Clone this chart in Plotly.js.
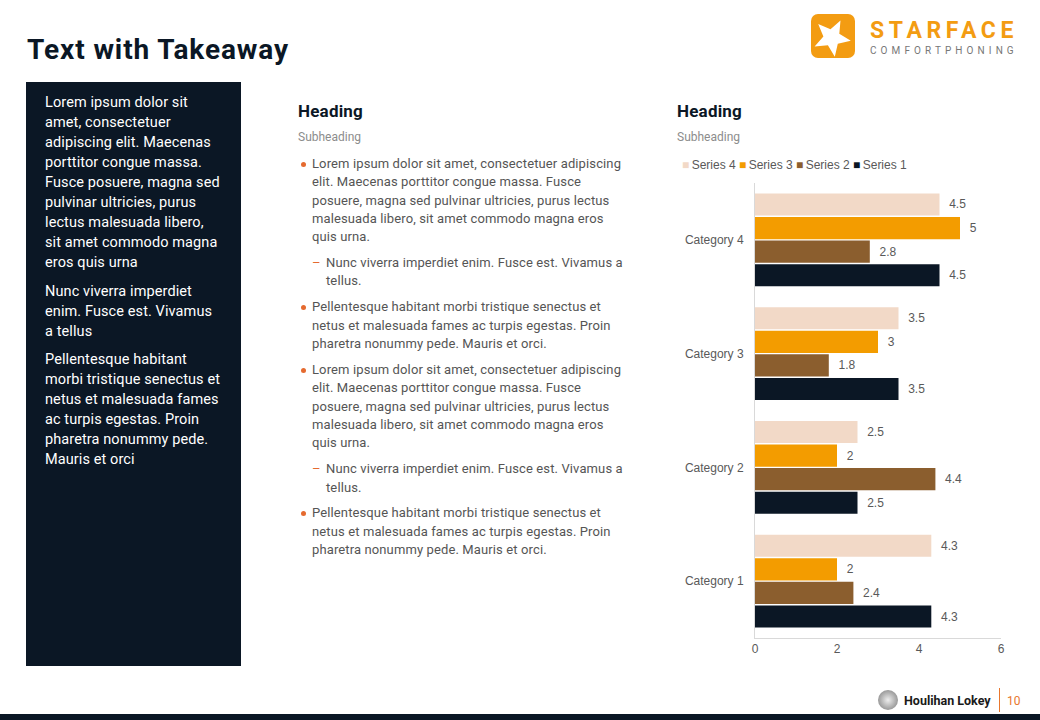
<!DOCTYPE html>
<html>
<head>
<meta charset="utf-8">
<script src="https://cdn.plot.ly/plotly-3.0.1.min.js"></script>
<style>
  html, body { margin:0; padding:0; }
  body { width:1040px; height:720px; position:relative; overflow:hidden; background:#fff; font-family: Roboto, "Noto Sans", sans-serif; }
  .abs { position:absolute; }
  #title { left:27px; top:32px; font-size:28px; font-weight:700; color:#0b1725; line-height:36px; white-space:nowrap; letter-spacing:0.9px; }
  #panel { left:26px; top:82px; width:215px; height:584px; background:#0b1725; }
  #panel .txt { position:absolute; left:19px; top:11px; color:#fff; font-size:14.5px; letter-spacing:0.1px; line-height:20px; white-space:nowrap; }
  #panel p { margin:0 0 8.5px 0; }
  .heading { font-size:17px; font-weight:700; color:#0b1725; line-height:20px; white-space:nowrap; letter-spacing:0.2px; }
  .subheading { font-size:12px; color:#8c8c8c; line-height:14px; white-space:nowrap; }
  #mid { left:298px; top:155px; font-size:13px; letter-spacing:0.12px; color:#555; line-height:18.3px; white-space:nowrap; }
  .item { position:relative; padding-left:14px; margin-bottom:7.7px; }
  .item.sub { padding-left:28px; }
  .item .dot { position:absolute; left:3px; top:6.7px; width:5px; height:5px; border-radius:50%; background:#e56a2f; }
  .item .mk { position:absolute; left:14px; top:0; color:#e56a2f; }
  #chart { left:660px; top:150px; width:380px; height:520px; }
  #bottombar { left:0; top:714px; width:1040px; height:6px; background:#0b1725; }
</style>
</head>
<body>
<div id="title" class="abs">Text with Takeaway</div>

<svg class="abs" style="left:806px;top:10px" width="230" height="55">
  <rect x="5" y="4" width="44" height="44" rx="7" ry="7" fill="#f39c12"/>
  <polygon fill="#fff" points="34.5,10.5 33.3,23.8 44.8,30.8 31.8,33.7 28.8,46.7 21.9,35.3 8.6,36.5 17.4,26.4 12.2,14.1 24.5,19.3"/>
  <text x="64" y="28" font-family="Roboto, sans-serif" font-weight="700" font-size="23" fill="#f39c12" letter-spacing="4.6">STARFACE</text>
  <text x="64" y="44" font-family="Roboto, sans-serif" font-size="10" fill="#777" letter-spacing="4.1">COMFORTPHONING</text>
</svg>

<div id="panel" class="abs">
  <div class="txt">
    <p>Lorem ipsum dolor sit<br>amet, consectetuer<br>adipiscing elit. Maecenas<br>porttitor congue massa.<br>Fusce posuere, magna sed<br>pulvinar ultricies, purus<br>lectus malesuada libero,<br>sit amet commodo magna<br>eros quis urna</p>
    <p>Nunc viverra imperdiet<br>enim. Fusce est. Vivamus<br>a tellus</p>
    <p>Pellentesque habitant<br>morbi tristique senectus et<br>netus et malesuada fames<br>ac turpis egestas. Proin<br>pharetra nonummy pede.<br>Mauris et orci</p>
  </div>
</div>

<div class="abs heading" style="left:298px;top:101px">Heading</div>
<div class="abs subheading" style="left:298px;top:130px">Subheading</div>
<div class="abs heading" style="left:677px;top:101px">Heading</div>
<div class="abs subheading" style="left:677px;top:130px">Subheading</div>

<div id="mid" class="abs">
  <div class="item"><span class="dot"></span>Lorem ipsum dolor sit amet, consectetuer adipiscing<br>elit. Maecenas porttitor congue massa. Fusce<br>posuere, magna sed pulvinar ultricies, purus lectus<br>malesuada libero, sit amet commodo magna eros<br>quis urna.</div>
  <div class="item sub"><span class="mk">&#8211;</span>Nunc viverra imperdiet enim. Fusce est. Vivamus a<br>tellus.</div>
  <div class="item"><span class="dot"></span>Pellentesque habitant morbi tristique senectus et<br>netus et malesuada fames ac turpis egestas. Proin<br>pharetra nonummy pede. Mauris et orci.</div>
  <div class="item"><span class="dot"></span>Lorem ipsum dolor sit amet, consectetuer adipiscing<br>elit. Maecenas porttitor congue massa. Fusce<br>posuere, magna sed pulvinar ultricies, purus lectus<br>malesuada libero, sit amet commodo magna eros<br>quis urna.</div>
  <div class="item sub"><span class="mk">&#8211;</span>Nunc viverra imperdiet enim. Fusce est. Vivamus a<br>tellus.</div>
  <div class="item"><span class="dot"></span>Pellentesque habitant morbi tristique senectus et<br>netus et malesuada fames ac turpis egestas. Proin<br>pharetra nonummy pede. Mauris et orci.</div>
</div>

<div id="chart" class="abs"></div>

<svg class="abs" style="left:870px;top:686px" width="170" height="28">
  <defs>
    <radialGradient id="g1" cx="50%" cy="50%" r="50%">
      <stop offset="0%" stop-color="#eee"/>
      <stop offset="100%" stop-color="#999"/>
    </radialGradient>
  </defs>
  <circle cx="18" cy="14" r="10" fill="url(#g1)"/>
  <text x="34" y="19" font-family="Roboto, sans-serif" font-weight="700" font-size="12.5" fill="#1a1a1a">Houlihan Lokey</text>
  <line x1="129.5" y1="2" x2="129.5" y2="26" stroke="#e8772e" stroke-width="1"/>
  <text x="137" y="19" font-family="Roboto, sans-serif" font-size="12" fill="#e8772e">10</text>
</svg>
<div id="bottombar" class="abs"></div>

<script>
const categories = ['Category 1', 'Category 2', 'Category 3', 'Category 4'];
const seriesNames = ['Series 1', 'Series 2', 'Series 3', 'Series 4'];
const series1 = [4.3, 2.5, 3.5, 4.5];
const series2 = [2.4, 4.4, 1.8, 2.8];
const series3 = [2, 2, 3, 5];
const series4 = [4.3, 2.5, 3.5, 4.5];
const xTickVals = [0, 2, 4, 6];

const seriesValues = [series1, series2, series3, series4];
const seriesColors = ['#0b1725', '#8b5e2e', '#f39c00', '#f2d9c7'];
const labelColor = '#595959';
const chartFont = '"Liberation Sans", Arial, sans-serif';

const traces = seriesValues.map((vals, i) => ({
  type: 'bar',
  orientation: 'h',
  name: seriesNames[i],
  y: categories,
  x: vals,
  text: vals.map(v => String(v)),
  texttemplate: '\u00a0\u00a0%{text}',
  textposition: 'outside',
  textfont: { family: chartFont, size: 12, color: labelColor },
  constraintext: 'none',
  cliponaxis: false,
  marker: { color: seriesColors[i], line: { width: 0 } },
  hoverinfo: 'skip'
}));

// Legend (reverse order, as in the reference) built from names/colours
const legendText = seriesNames.map((n, i) => ({ n, c: seriesColors[i] }))
  .reverse()
  .map(o => '<span style="color:' + o.c + '">\u25A0</span>\u2009' + o.n)
  .join(' ');

const layout = {
  width: 380,
  height: 520,
  margin: { l: 95, r: 39, t: 33, b: 32 },
  paper_bgcolor: 'rgba(0,0,0,0)',
  plot_bgcolor: 'rgba(0,0,0,0)',
  barmode: 'group',
  bargap: 0.17,
  bargroupgap: 0.06,
  showlegend: false,
  font: { family: chartFont, size: 12, color: labelColor },
  xaxis: {
    range: [0, 6],
    tickvals: xTickVals,
    ticktext: xTickVals.map(String),
    showgrid: false,
    zeroline: false,
    showline: true,
    linecolor: '#d9d9d9',
    linewidth: 1,
    ticks: '',
    tickfont: { family: chartFont, size: 12, color: labelColor },
    fixedrange: true
  },
  yaxis: {
    type: 'category',
    categoryorder: 'array',
    categoryarray: categories,
    showgrid: false,
    zeroline: false,
    showline: true,
    linecolor: '#d9d9d9',
    linewidth: 1,
    ticks: '',
    ticklabelstandoff: 8,
    tickfont: { family: chartFont, size: 12, color: labelColor },
    fixedrange: true
  },
  annotations: [{
    xref: 'paper', yref: 'paper',
    x: -0.305, y: 1,
    xanchor: 'left', yanchor: 'middle',
    yshift: 18,
    showarrow: false,
    align: 'left',
    text: legendText,
    font: { family: chartFont, size: 12, color: labelColor }
  }]
};

Plotly.newPlot('chart', traces, layout, { displayModeBar: false, staticPlot: true });
</script>
</body>
</html>
